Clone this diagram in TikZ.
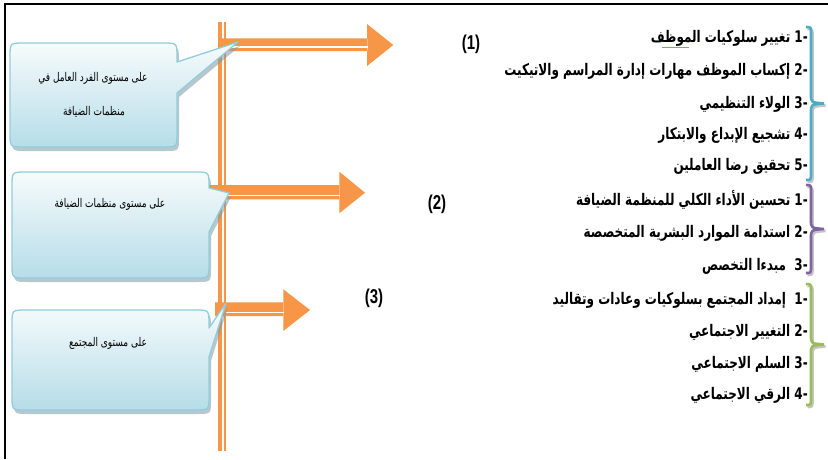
\documentclass[tikz,border=0pt]{standalone}
\usepackage{fontspec}
\usetikzlibrary{calc}
\TeXXeTstate=1
\setmainfont{Liberation Sans}
\newfontfamily\arabicfont[Script=Arabic]{DejaVu Sans}

\definecolor{orng}{HTML}{F79646}
\definecolor{callborder}{HTML}{93CDDD}
\definecolor{calltop}{HTML}{F7FBFC}
\definecolor{callbot}{HTML}{B6DDE8}
\definecolor{callshadow}{HTML}{7F9AA3}
\definecolor{braceblue}{HTML}{4BACC6}
\definecolor{bracepurple}{HTML}{8064A2}
\definecolor{bracegreen}{HTML}{9BBB59}
\definecolor{spellgreen}{HTML}{5BBF5B}

% rounded speech bubble: left, top, right, bottom, tail start, tip x, tip y, tail end
\newcommand\callout[8]{%
  \tikzset{cshape/.style={insert path={(#1+14,#2) -- (#3-14,#2) .. controls (#3,#2) .. (#3,#2+14)
    -- (#3,#5) -- (#6,#7) -- (#3,#8) -- (#3,#4-14) .. controls (#3,#4) .. (#3-14,#4)
    -- (#1+14,#4) .. controls (#1,#4) .. (#1,#4-14) -- (#1,#2+14) .. controls (#1,#2) .. (#1+14,#2) -- cycle}}}%
  \fill[callshadow,opacity=.55,shift={(2,4)}] [cshape];
  \path[draw=callborder,line width=1.3pt,line join=round,top color=calltop,bottom color=callbot] [cshape];
}

% curly brace opening to the left, tip to the right
\newcommand\groupbrace[3]{%
  \tikzset{bshape/.style={insert path={(806,#1) .. controls (811,#1) .. (811,#1+7) -- (811,{(#1+#2)/2-9})
    .. controls (811,{(#1+#2)/2-1}) .. (824,{(#1+#2)/2}) .. controls (811,{(#1+#2)/2+1}) .. (811,{(#1+#2)/2+9})
    -- (811,#2-7) .. controls (811,#2) .. (806,#2)}}}%
  \draw[black!45,opacity=.5,line width=2.6pt,shift={(1.5,2)}] [bshape];
  \draw[#3,line width=2.6pt] [bshape];
}

% narrowed Arabic runs
\newcommand\listrun[1]{\scalebox{0.75}[1]{\beginR #1\endR}}
\newcommand\bubblerun[1]{\scalebox{0.75}[1]{\beginR #1\endR}}

\tikzset{
  listtext/.style={anchor=east,inner sep=0pt,font=\arabicfont\bfseries\fontsize{16}{18}\selectfont},
  bubbletext/.style={inner sep=0pt,font=\arabicfont\fontsize{12}{14}\selectfont},
  numlabel/.style={inner sep=0pt,font=\bfseries\fontsize{20}{20}\selectfont},
  whiteline/.style={white,line width=1.4pt}
}

\begin{document}
\begin{tikzpicture}[x=1pt,y=-1pt]
\useasboundingbox (0,0) rectangle (828,459);
\fill[white] (0,0) rectangle (828,459);

% frame
\draw[line width=1.7pt] (4.9,459) -- (4.9,4.2) -- (828,4.2);

% vertical spine (thick-thin compound line)
\fill[orng] (217.7,22) rectangle (225.7,451);
\draw[whiteline] (223,22) -- (223,451);

% arrow 1
\fill[orng] (218,38.3) rectangle (367.5,51) (367,24) -- (393.3,45) -- (367,66) -- cycle;
\draw[whiteline] (226,47) -- (367.5,47);
% arrow 2
\fill[orng] (208,185) rectangle (339.8,199.3) (339.3,171.7) -- (365,192.7) -- (339.3,213.3) -- cycle;
\draw[whiteline] (226,195.2) -- (339.8,195.2);
% arrow 3
\fill[orng] (215,302.3) rectangle (283.8,316) (283.3,289.3) -- (310,310) -- (283.3,331) -- cycle;
\draw[whiteline] (226,312.5) -- (283.8,312.5);

% speech bubbles
\callout{10}{43}{177}{147}{62}{238}{42}{93}
\callout{12}{172}{209}{278}{188}{229}{193}{232}
\callout{12}{310}{209}{410}{328}{226}{303}{357}

\node[bubbletext] (b1a) at (93,78) {\bubblerun{على مستوى الفرد العامل في}};
\node[bubbletext] (b1b) at (94,112) {\bubblerun{منظمات الضيافة}};
\node[bubbletext] (b2) at (110,204) {\bubblerun{على مستوى منظمات الضيافة}};
\node[bubbletext] (b3) at (108,343) {\bubblerun{على مستوى المجتمع}};

% group numbers
\node[numlabel] (n1) at (471,44) {\scalebox{0.75}[1]{(1)}};
\node[numlabel] (n2) at (437,204) {\scalebox{0.75}[1]{(2)}};
\node[numlabel] (n3) at (374,298) {\scalebox{0.75}[1]{(3)}};

% first group
\node[listtext] (g1a) at (808,38) {\listrun{-1 تغيير سلوكيات الموظف}};
\node[listtext] (g1b) at (808,71) {\listrun{-2 إكساب الموظف مهارات إدارة المراسم والاتيكيت}};
\node[listtext] (g1c) at (808,104) {\listrun{-3 الولاء التنظيمي}};
\node[listtext] (g1d) at (808,135) {\listrun{-4 تشجيع الإبداع والابتكار}};
\node[listtext] (g1e) at (808,166) {\listrun{-5 تحقيق رضا العاملين}};
% second group
\node[listtext] (g2a) at (808,200) {\listrun{-1 تحسين الأداء الكلي للمنظمة الضيافة}};
\node[listtext] (g2b) at (808,233) {\listrun{-2 استدامة الموارد البشرية المتخصصة}};
\node[listtext] (g2c) at (808,266) {\listrun{-3\ \ مبدءا التخصص}};
% third group
\node[listtext] (g3a) at (808,300) {\listrun{-1\ \ إمداد المجتمع بسلوكيات وعادات وتقاليد}};
\node[listtext] (g3b) at (808,332) {\listrun{-2 التغيير الاجتماعي}};
\node[listtext] (g3c) at (808,364) {\listrun{-3 السلم الاجتماعي}};
\node[listtext] (g3d) at (808,395) {\listrun{-4 الرقي الاجتماعي}};

% spell-check mark under the first line's last word
\draw[spellgreen,line width=0.7pt] ($(g1a.south west)+(11,1.5)$) -- ($(g1a.south west)+(38,1.5)$);

% braces
\groupbrace{27}{180}{braceblue}
\groupbrace{185}{273}{bracepurple}
\groupbrace{284}{405}{bracegreen}
\end{tikzpicture}
\end{document}
